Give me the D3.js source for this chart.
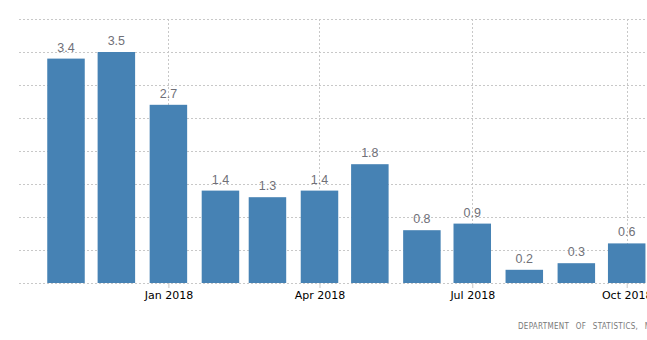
<!DOCTYPE html>
<html>
<head>
<meta charset="utf-8">
<script src="https://cdn.jsdelivr.net/npm/d3@7"></script>
<style>
  html, body { margin: 0; padding: 0; background: #fff; }
  svg { display: block; }
</style>
</head>
<body>
<svg id="chart" width="647" height="340"></svg>
<script>
// Monthly values, Nov 2017 – Oct 2018
const months = ["2017-11", "2017-12", "2018-01", "2018-02", "2018-03", "2018-04",
                "2018-05", "2018-06", "2018-07", "2018-08", "2018-09", "2018-10"];
const values = [3.4, 3.5, 2.7, 1.4, 1.3, 1.4, 1.8, 0.8, 0.9, 0.2, 0.3, 0.6];
const valueLabels = ["3.4", "3.5", "2.7", "1.4", "1.3", "1.4", "1.8", "0.8", "0.9", "0.2", "0.3", "0.6"];
const tickMonths = ["2018-01", "2018-04", "2018-07", "2018-10"];
const yGridValues = [0, 0.5, 1, 1.5, 2, 2.5, 3, 3.5, 4];
const sourceText = "DEPARTMENT OF STATISTICS, MALAYSIA";

const parse = d3.timeParse("%Y-%m");
const data = months.map((m, i) => ({ date: parse(m), value: values[i], label: valueLabels[i] }));

const svg = d3.select("#chart");
const plotLeft = 19, plotRight = 647, baseline = 283, plotTop = 19;

const x = d3.scaleTime()
  .domain([parse("2017-11"), parse("2018-10")])
  .range([66, 626.7]);
const y = d3.scaleLinear().domain([0, 4]).range([baseline, plotTop]);
const barW = 37.5;

// horizontal dotted gridlines
svg.append("g").selectAll("line").data(yGridValues).join("line")
  .attr("x1", plotLeft).attr("x2", plotRight)
  .attr("y1", d => Math.round(y(d)) + 0.5).attr("y2", d => Math.round(y(d)) + 0.5)
  .attr("stroke", "#c8c8c8").attr("stroke-width", 1)
  .attr("stroke-dasharray", "2,2");

// vertical dotted gridlines at tick months
const tickDates = tickMonths.map(parse);
svg.append("g").selectAll("line").data(tickDates).join("line")
  .attr("x1", d => Math.round(x(d)) + 0.5).attr("x2", d => Math.round(x(d)) + 0.5)
  .attr("y1", y(4)).attr("y2", baseline)
  .attr("stroke", "#c8c8c8").attr("stroke-width", 1)
  .attr("stroke-dasharray", "2,2");

// bars
svg.append("g").selectAll("rect").data(data).join("rect")
  .attr("x", d => x(d.date) - barW / 2)
  .attr("width", barW)
  .attr("y", d => y(d.value))
  .attr("height", d => baseline - y(d.value))
  .attr("fill", "#4682b4");

// value labels
svg.append("g").selectAll("text").data(data).join("text")
  .attr("x", d => x(d.date))
  .attr("y", d => y(d.value) - 7)
  .attr("text-anchor", "middle")
  .attr("font-family", "Liberation Sans, Arial, sans-serif")
  .attr("font-size", 12.5)
  .attr("fill", "#707078")
  .text(d => d.label);

// x axis ticks and labels
const xAxis = d3.axisBottom(x)
  .tickValues(tickDates)
  .tickSize(5)
  .tickFormat(d3.timeFormat("%b %Y"));
const ax = svg.append("g").attr("transform", `translate(0,${baseline})`).call(xAxis);
ax.select(".domain").remove();
ax.selectAll(".tick line").attr("stroke", "#c8c8c8");
ax.selectAll(".tick text")
  .attr("y", 8)
  .attr("font-family", "DejaVu Sans, Verdana, sans-serif")
  .attr("font-size", 11)
  .attr("fill", "#000");

// source note
svg.append("text")
  .attr("x", 518).attr("y", 329)
  .attr("font-family", "DejaVu Sans Condensed, DejaVu Sans, sans-serif")
  .attr("font-size", 8)
  .attr("letter-spacing", 0.3)
  .attr("word-spacing", 4)
  .attr("fill", "#7a7a7a")
  .text(sourceText);
</script>
</body>
</html>
